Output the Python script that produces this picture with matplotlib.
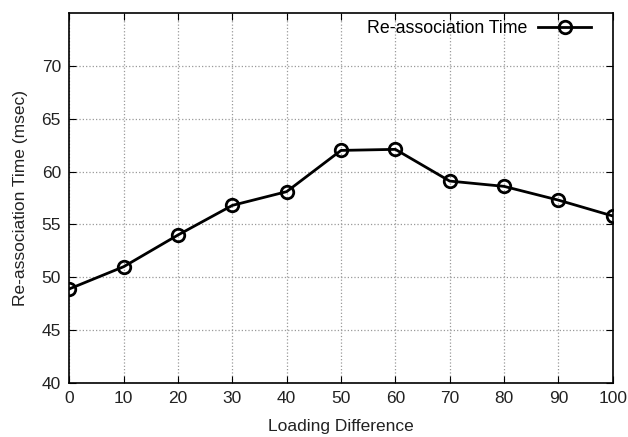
import matplotlib
matplotlib.use("Agg")
import matplotlib.pyplot as plt

loading_diff = [0, 10, 20, 30, 40, 50, 60, 70, 80, 90, 100]
reassoc_time = [48.9, 51.0, 54.0, 56.8, 58.1, 62.0, 62.1, 59.1, 58.6, 57.3, 55.8]
y_ticks = [40, 45, 50, 55, 60, 65, 70]

plt.rcParams["font.family"] = ["Liberation Sans", "DejaVu Sans"]

fig = plt.figure(figsize=(6.28, 4.37), dpi=100)
ax = fig.add_axes([0.1104, 0.1236, 0.8652, 0.8467])

ax.plot(loading_diff, reassoc_time, color="black", linewidth=2,
        marker="o", markersize=9, markerfacecolor="none", markeredgewidth=2,
        label="Re-association Time")

ax.set_xlim(0, 100)
ax.set_ylim(40, 75)
ax.set_xticks(loading_diff)
ax.set_yticks(y_ticks)
ax.tick_params(direction="in", top=True, right=True, labelsize=12.5, length=5,
               pad=6, colors="black", labelcolor="#222222")
for s in ax.spines.values():
    s.set_linewidth(1.2)

ax.grid(True, linestyle=":", color="#999999", linewidth=0.9)
ax.set_xlabel("Loading Difference", fontsize=12.5, color="#222222", labelpad=9)
ax.set_ylabel("Re-association Time (msec)", fontsize=12.5, color="#222222", labelpad=10)

leg = ax.legend(loc="upper right", bbox_to_anchor=(0.967, 0.99), frameon=False,
                markerfirst=False, fontsize=12.8, handlelength=3.0,
                borderaxespad=0, handletextpad=0.6, borderpad=0.2)

fig.savefig("out.png", dpi=100)
